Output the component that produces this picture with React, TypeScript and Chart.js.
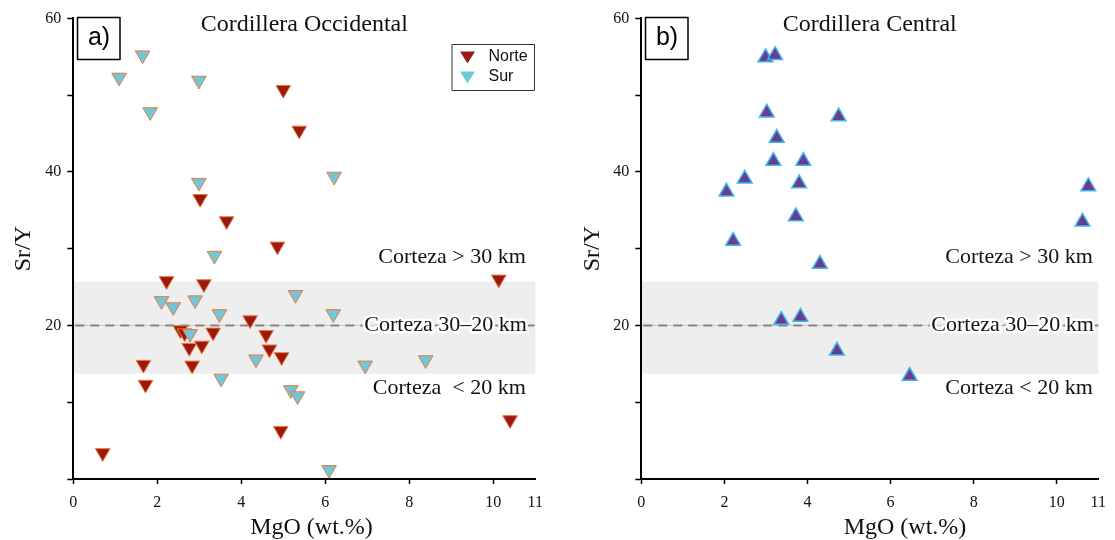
import React, { useEffect, useRef } from 'react';
import { Chart, registerables } from 'chart.js';

Chart.register(...registerables);

// ---------- data ----------
const X_TICKS = [0, 2, 4, 6, 8, 10, 11];
const Y_TICKS = [0, 10, 20, 30, 40, 50, 60];
const Y_LABELED = [20, 40, 60];

const NORTE_MGO = [5.0, 5.38, 3.02, 3.65, 4.86, 10.13, 2.22, 3.11, 4.21, 2.55, 2.65, 3.33, 4.59, 2.76, 3.06, 4.67, 4.96, 1.67, 2.83, 1.72, 10.4, 4.94, 0.7];
const NORTE_SRY = [50.7, 45.4, 36.5, 33.6, 30.3, 26.0, 25.8, 25.4, 20.7, 19.4, 19.0, 19.1, 18.8, 17.1, 17.4, 16.9, 15.9, 14.9, 14.8, 12.3, 7.7, 6.3, 3.4];

const SUR_MGO = [1.65, 1.09, 2.99, 1.83, 6.21, 2.99, 3.36, 5.29, 2.1, 2.9, 2.38, 3.48, 6.19, 2.78, 4.35, 6.95, 8.39, 3.52, 5.18, 5.34, 6.09];
const SUR_SRY = [55.2, 52.3, 51.9, 47.8, 39.4, 38.6, 29.1, 24.0, 23.2, 23.3, 22.4, 21.5, 21.5, 18.9, 15.6, 14.8, 15.5, 13.1, 11.6, 10.8, 1.2];

const CENTRAL_MGO = [2.99, 3.22, 3.02, 4.75, 3.26, 3.18, 3.9, 2.49, 2.05, 3.8, 10.76, 3.72, 10.62, 2.21, 4.3, 3.37, 3.83, 4.71, 6.46];
const CENTRAL_SRY = [54.9, 55.2, 47.7, 47.2, 44.4, 41.4, 41.4, 39.1, 37.4, 38.5, 38.1, 34.2, 33.5, 31.0, 28.0, 20.7, 21.1, 16.7, 13.4];

const BAND_MIN = 13.7;
const BAND_MAX = 25.7;
const REF_LINE = 20;

const SERIF = '"Liberation Serif", "Times New Roman", serif';
const SANS = '"Liberation Sans", Arial, sans-serif';

const NORTE_FILL = '#9a1a12';
const SUR_FILL = '#6ec8da';
const DOWN_BORDER = '#ee7a3c';
const CENTRAL_FILL = '#6b3c8e';
const CENTRAL_BORDER = '#3db8ee';

const toPoints = (xs: number[], ys: number[]) => xs.map((x, i) => ({ x, y: ys[i] }));

type PanelCfg = {
  left: number;
  width: number;
  padRight: number;
  datasets: any[];
  title: string;
  tag: string;
  legend: boolean;
  lowText: string;
  textRightInset: number;
  xLabelX: number;
  yLabelX: number;
};

function buildConfig(p: PanelCfg): any {
  const decor = {
    id: 'decor',
    beforeDraw(chart: any) {
      const { ctx, chartArea: a, scales } = chart;
      const y = scales.y;
      ctx.save();
      const yTop = y.getPixelForValue(BAND_MAX);
      const yBot = y.getPixelForValue(BAND_MIN);
      ctx.fillStyle = '#eeeeee';
      ctx.fillRect(a.left, yTop, a.right - a.left, yBot - yTop);
      const y20 = y.getPixelForValue(REF_LINE);
      ctx.strokeStyle = '#c8c8c8';
      ctx.lineWidth = 1;
      ctx.beginPath();
      ctx.moveTo(a.left, y20);
      ctx.lineTo(a.right, y20);
      ctx.stroke();
      ctx.setLineDash([9, 6]);
      ctx.strokeStyle = '#858585';
      ctx.lineWidth = 2;
      ctx.beginPath();
      ctx.moveTo(a.left + 2, y20);
      ctx.lineTo(a.right, y20);
      ctx.stroke();
      ctx.restore();
    },
    afterDraw(chart: any) {
      const { ctx, chartArea: a } = chart;
      ctx.save();
      // region texts
      const tx = a.right - p.textRightInset;
      ctx.textAlign = 'right';
      ctx.textBaseline = 'alphabetic';
      ctx.font = `22px ${SERIF}`;
      ctx.fillStyle = '#111';
      ctx.fillText('Corteza > 30 km', tx, 262.5);
      ctx.lineJoin = 'round';
      ctx.lineWidth = 5;
      ctx.strokeStyle = '#ffffff';
      ctx.strokeText('Corteza 30\u201320 km', tx + 1, 330.7);
      ctx.fillText('Corteza 30\u201320 km', tx + 1, 330.7);
      ctx.fillText(p.lowText, tx, 394);

      // title
      ctx.textAlign = 'center';
      ctx.font = `24px ${SERIF}`;
      ctx.fillText(p.title, (a.left + a.right) / 2, 30.5);

      // panel tag box
      ctx.lineWidth = 1.5;
      ctx.strokeStyle = '#000';
      ctx.fillStyle = '#fff';
      ctx.fillRect(77.5, 17.5, 42.5, 42);
      ctx.strokeRect(77.5, 17.5, 42.5, 42);
      ctx.fillStyle = '#000';
      ctx.font = `25px ${SANS}`;
      ctx.textBaseline = 'middle';
      ctx.fillText(p.tag, 99, 38.5);

      // axis titles
      ctx.textBaseline = 'alphabetic';
      ctx.font = `24px ${SERIF}`;
      ctx.fillStyle = '#111';
      ctx.fillText('MgO (wt.%)', p.xLabelX, 534);
      ctx.save();
      ctx.translate(p.yLabelX, (a.top + a.bottom) / 2);
      ctx.rotate(-Math.PI / 2);
      ctx.fillText('Sr/Y', 0, 0);
      ctx.restore();

      // legend
      if (p.legend) {
        ctx.fillStyle = '#fff';
        ctx.fillRect(452, 44.5, 82.5, 46);
        ctx.strokeStyle = '#333';
        ctx.lineWidth = 1;
        ctx.strokeRect(452, 44.5, 82.5, 46);
        const tri = (cx: number, cy: number, color: string) => {
          ctx.fillStyle = color;
          ctx.beginPath();
          ctx.moveTo(cx - 7.5, cy - 5);
          ctx.lineTo(cx + 7.5, cy - 5);
          ctx.lineTo(cx, cy + 7);
          ctx.closePath();
          ctx.fill();
        };
        tri(467.5, 56.5, NORTE_FILL);
        tri(467.5, 76.5, SUR_FILL);
        ctx.fillStyle = '#111';
        ctx.font = `16px ${SANS}`;
        ctx.textAlign = 'left';
        ctx.textBaseline = 'middle';
        ctx.fillText('Norte', 488.5, 57);
        ctx.fillText('Sur', 488.5, 77);
      }
      ctx.restore();
    },
  };

  return {
    type: 'scatter',
    data: { datasets: p.datasets },
    options: {
      animation: false,
      responsive: false,
      devicePixelRatio: 1,
      events: [],
      layout: { padding: { left: 0, top: 18.3, right: p.padRight, bottom: 0 } },
      plugins: { legend: { display: false }, tooltip: { enabled: false }, title: { display: false } },
      scales: {
        x: {
          type: 'linear',
          min: 0,
          max: 11,
          afterBuildTicks: (s: any) => {
            s.ticks = X_TICKS.map((v) => ({ value: v }));
          },
          afterFit: (s: any) => {
            s.height = 61;
          },
          ticks: {
            font: { family: SERIF, size: 16 },
            color: '#111',
            padding: 9,
            maxRotation: 0,
            autoSkip: false,
          },
          grid: {
            drawOnChartArea: false,
            drawTicks: true,
            tickLength: 5,
            tickWidth: 1.5,
            tickColor: (c: any) => (c.tick && c.tick.value === 11 ? 'rgba(0,0,0,0)' : '#000'),
          },
          border: { display: true, color: '#000', width: 2 },
        },
        y: {
          type: 'linear',
          min: 0,
          max: 60,
          afterBuildTicks: (s: any) => {
            s.ticks = Y_TICKS.map((v) => ({ value: v }));
          },
          afterFit: (s: any) => {
            s.width = 73.3;
          },
          ticks: {
            font: { family: SERIF, size: 16 },
            color: '#111',
            padding: 6,
            autoSkip: false,
            callback: (v: any) => (Y_LABELED.includes(Number(v)) ? String(v) : ''),
          },
          grid: {
            drawOnChartArea: false,
            drawTicks: true,
            tickLength: 6,
            tickWidth: 1.5,
            tickColor: '#000',
          },
          border: { display: true, color: '#000', width: 2 },
        },
      },
    },
    plugins: [decor],
  };
}

const downStyle = {
  pointStyle: 'triangle',
  rotation: 180,
  pointRadius: 8.5,
  pointHoverRadius: 8.5,
  borderWidth: 1,
  borderColor: DOWN_BORDER,
  clip: false,
  showLine: false,
};

const leftCfg: PanelCfg = {
  left: 0,
  width: 560,
  padRight: 24.7,
  datasets: [
    { label: 'Sur', data: toPoints(SUR_MGO, SUR_SRY), backgroundColor: SUR_FILL, ...downStyle },
    { label: 'Norte', data: toPoints(NORTE_MGO, NORTE_SRY), backgroundColor: NORTE_FILL, ...downStyle },
  ],
  title: 'Cordillera Occidental',
  tag: 'a)',
  legend: true,
  lowText: 'Corteza  < 20 km',
  textRightInset: 9.5,
  xLabelX: 311.5,
  yLabelX: 30,
};

const rightCfg: PanelCfg = {
  left: 568,
  width: 547,
  padRight: 11.7,
  datasets: [
    {
      label: 'Central',
      data: toPoints(CENTRAL_MGO, CENTRAL_SRY),
      backgroundColor: CENTRAL_FILL,
      borderColor: CENTRAL_BORDER,
      pointStyle: 'triangle',
      rotation: 0,
      pointRadius: 8.5,
      pointHoverRadius: 8.5,
      borderWidth: 1.5,
      clip: false,
      showLine: false,
    },
  ],
  title: 'Cordillera Central',
  tag: 'b)',
  legend: false,
  lowText: 'Corteza < 20 km',
  textRightInset: 5.5,
  xLabelX: 337,
  yLabelX: 31,
};

function Panel({ cfg }: { cfg: PanelCfg }) {
  const ref = useRef<HTMLCanvasElement>(null);
  useEffect(() => {
    const chart = new Chart(ref.current as HTMLCanvasElement, buildConfig(cfg));
    return () => chart.destroy();
  }, [cfg]);
  return (
    <canvas
      ref={ref}
      width={cfg.width}
      height={540}
      style={{ position: 'absolute', left: cfg.left, top: 0, width: cfg.width, height: 540 }}
    />
  );
}

export default function App() {
  return (
    <div style={{ position: 'fixed', left: 0, top: 0, width: 1115, height: 540, background: '#fff', overflow: 'hidden' }}>
      <Panel cfg={leftCfg} />
      <Panel cfg={rightCfg} />
    </div>
  );
}
